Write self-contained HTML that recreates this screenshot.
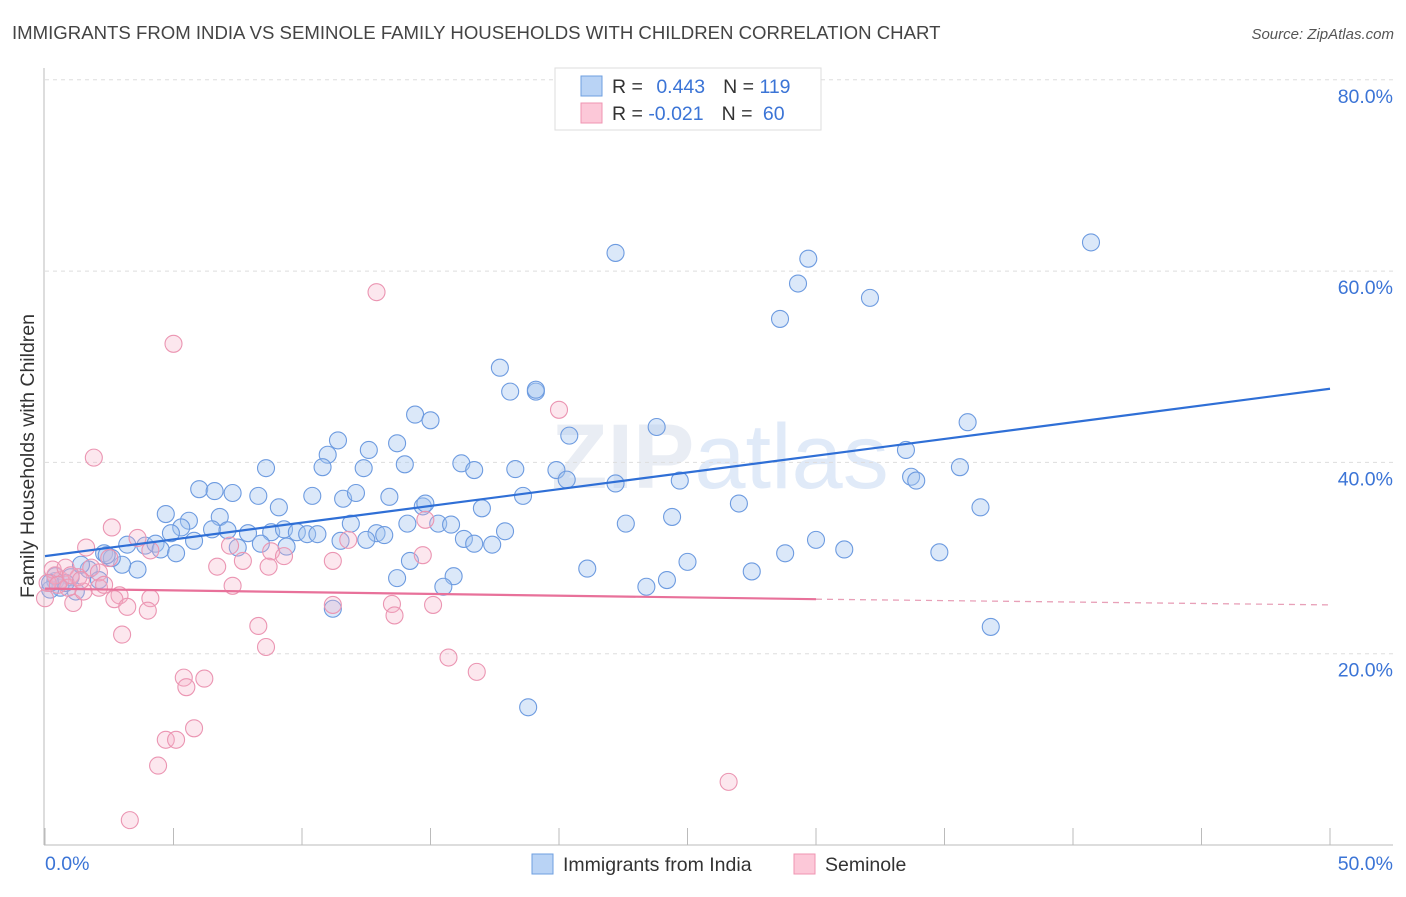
<!DOCTYPE html>
<html><head><meta charset="utf-8"><style>
body{margin:0;background:#fff;font-family:"Liberation Sans",sans-serif;}
svg text{font-family:"Liberation Sans",sans-serif;}
</style></head><body>
<svg id="c" width="1406" height="892" xmlns="http://www.w3.org/2000/svg">
<text x="12" y="39" font-size="18.6" fill="#444">IMMIGRANTS FROM INDIA VS SEMINOLE FAMILY HOUSEHOLDS WITH CHILDREN CORRELATION CHART</text>
<text x="1394" y="39" font-size="15" fill="#555" text-anchor="end" font-style="italic">Source: ZipAtlas.com</text>
<text x="720" y="488" font-size="92" fill="#e9edf4" text-anchor="middle" font-weight="bold" font-family="Liberation Serif">ZIP<tspan fill="#e0eaf8" font-weight="normal" font-family="Liberation Sans">atlas</tspan></text>
<g id="grid"></g>
<g id="pts"></g>
<g id="lines"></g>
<text transform="translate(34,456) rotate(-90)" font-size="19.5" fill="#333" text-anchor="middle">Family Households with Children</text>
<g>
<rect x="555" y="68" width="266" height="62" fill="#fff" stroke="#ddd"/>
<rect x="581" y="76" width="21" height="20" fill="#b9d3f5" stroke="#6e9fe0"/>
<rect x="581" y="103" width="21" height="20" fill="#fcc8d8" stroke="#ef94b2"/>
<text x="612" y="93" font-size="19.5" fill="#333">R = <tspan fill="#3b74d6" dx="8">0.443</tspan><tspan dx="18" fill="#333">N = </tspan><tspan fill="#3b74d6">119</tspan></text>
<text x="612" y="120" font-size="19.5" fill="#333">R = <tspan fill="#3b74d6">-0.021</tspan><tspan dx="18" fill="#333">N = </tspan><tspan fill="#3b74d6" dx="5">60</tspan></text>
</g>
<g>
<rect x="532" y="854" width="21" height="20" fill="#b9d3f5" stroke="#6e9fe0"/>
<text x="563" y="871" font-size="19.5" fill="#333">Immigrants from India</text>
<rect x="794" y="854" width="21" height="20" fill="#fcc8d8" stroke="#ef94b2"/>
<text x="825" y="871" font-size="19.5" fill="#333">Seminole</text>
</g>
</svg>
<script>
const blueX=[22.2,40.7,29.7,29.3,32.1,28.6,17.7,18.1,19.1,19.1,14.4,15.0,20.4,23.8,35.9,33.5,11.4,13.7,12.6,11.0,8.6,10.8,12.4,14.0,16.2,16.7,18.3,19.9,20.3,22.2,24.7,33.7,33.9,35.6,6.0,6.6,7.3,8.3,10.4,11.6,12.1,13.4,18.6,9.1,14.7,14.8,17.0,27.0,36.4,4.7,5.6,6.8,5.3,4.9,6.5,7.1,7.9,8.8,9.3,9.8,10.2,10.6,11.9,12.9,13.2,14.1,15.3,15.8,17.9,22.6,24.4,30.0,31.1,34.8,28.8,25.0,16.3,16.7,17.4,11.5,12.5,8.4,7.5,9.4,2.3,3.2,3.9,4.3,4.5,5.1,5.8,14.2,13.7,15.9,15.5,21.1,24.2,23.4,27.5,36.8,18.8,11.2,3.6,3.0,2.6,2.4,1.7,1.0,0.4,0.6,1.2,0.2,0.8,2.1,1.4,0.4,0.2];
const blueY=[61.9,63.0,61.3,58.7,57.2,55.0,49.9,47.4,47.4,47.6,45.0,44.4,42.8,43.7,44.2,41.3,42.3,42.0,41.3,40.8,39.4,39.5,39.4,39.8,39.9,39.2,39.3,39.2,38.2,37.8,38.1,38.5,38.1,39.5,37.2,37.0,36.8,36.5,36.5,36.2,36.8,36.4,36.5,35.3,35.4,35.7,35.2,35.7,35.3,34.6,33.9,34.3,33.2,32.6,33.0,32.9,32.6,32.7,33.0,32.7,32.5,32.5,33.6,32.6,32.4,33.6,33.6,33.5,32.8,33.6,34.3,31.9,30.9,30.6,30.5,29.6,32.0,31.5,31.4,31.8,31.9,31.5,31.1,31.2,30.5,31.4,31.3,31.5,30.9,30.5,31.8,29.7,27.9,28.1,27.0,28.9,27.7,27.0,28.6,22.8,14.4,24.7,28.8,29.3,30.0,30.3,28.8,28.0,27.6,26.9,26.5,26.7,27.4,27.7,29.3,28.1,27.4];
const pinkX=[12.9,5.0,1.9,20.0,14.8,2.6,3.6,7.2,1.6,2.5,4.1,8.8,9.3,11.2,14.7,11.8,6.7,7.7,8.7,7.3,2.1,2.9,4.1,2.7,3.2,1.1,1.5,0.6,0.4,0.0,11.2,13.5,13.6,15.1,4.0,8.3,8.6,3.0,5.4,6.2,5.5,15.7,16.8,5.8,4.7,5.1,4.4,3.3,26.6,0.3,0.8,1.3,1.8,2.1,0.9,2.3,0.1,0.5,1.0,1.4];
const pinkY=[57.8,52.4,40.5,45.5,34.0,33.2,32.1,31.3,31.1,30.0,30.8,30.7,30.2,29.7,30.3,31.9,29.1,29.7,29.1,27.1,26.9,26.1,25.8,25.7,24.9,25.3,26.5,27.7,28.2,25.8,25.1,25.2,24.0,25.1,24.5,22.9,20.7,22.0,17.5,17.4,16.5,19.6,18.1,12.2,11.0,11.0,8.3,2.6,6.6,28.8,29.0,28.0,29.0,28.5,26.9,27.2,27.4,27.2,28.2,27.7];
const blueTrend=[30.2,47.7];
const pinkTrend=[26.8,25.7,25.1];
const yTicks=[20,40,60,80];
const yTickLabels=["20.0%","40.0%","60.0%","80.0%"];
const xTicks=[0,5,10,15,20,25,30,35,40,45,50];
const NS="http://www.w3.org/2000/svg";
const sx=v=>45+v*25.7, sy=v=>845-v*9.565;
function mk(t,a,p){const e=document.createElementNS(NS,t);for(const k in a)e.setAttribute(k,a[k]);p.appendChild(e);return e;}
const grid=document.getElementById('grid'),pts=document.getElementById('pts'),lines=document.getElementById('lines');
yTicks.forEach((v,i)=>{
 const l=mk('line',{x1:45,x2:1393,y1:sy(v),y2:sy(v),stroke:'#ddd','stroke-dasharray':'4,4'},grid);
 
 
 const t=mk('text',{x:1393,y:sy(v)+23,'font-size':19.5,fill:'#3b74d6','text-anchor':'end'},grid);
 t.textContent=yTickLabels[i];
 
 
});
const ax=mk('line',{x1:44,x2:44,y1:68,y2:845,stroke:'#bbb'},grid);


const bx=mk('line',{x1:44,x2:1393,y1:845,y2:845,stroke:'#bbb'},grid);


xTicks.forEach(v=>{
 const l=mk('line',{x1:sx(v),x2:sx(v),y1:828,y2:845,stroke:'#bbb'},grid);
 
 
});
const xl0=mk('text',{x:45,y:870,'font-size':19.5,fill:'#3b74d6'},grid);xl0.textContent=xTicks[0].toFixed(1)+'%';


const xl1=mk('text',{x:1393,y:870,'font-size':19.5,fill:'#3b74d6','text-anchor':'end'},grid);xl1.textContent=xTicks[xTicks.length-1].toFixed(1)+'%';


blueX.forEach((x,i)=>{
 const c=mk('circle',{cx:sx(x),cy:sy(blueY[i]),r:8.5,fill:'rgba(165,198,240,0.4)',stroke:'#6d9be0','stroke-width':1.1},pts);
 
 
});
pinkX.forEach((x,i)=>{
 const c=mk('circle',{cx:sx(x),cy:sy(pinkY[i]),r:8.5,fill:'rgba(245,175,198,0.3)',stroke:'#eb95b2','stroke-width':1.1},pts);
 
 
});
const bl=mk('line',{x1:sx(0),y1:sy(blueTrend[0]),x2:sx(50),y2:sy(blueTrend[1]),stroke:'#2f6fd6','stroke-width':2.2},lines);


const pl=mk('line',{x1:sx(0),y1:sy(pinkTrend[0]),x2:sx(30),y2:sy(pinkTrend[1]),stroke:'#e8719a','stroke-width':2.2},lines);


const pd=mk('line',{x1:sx(30),y1:sy(pinkTrend[1]),x2:sx(50),y2:sy(pinkTrend[2]),stroke:'#e8a0b8','stroke-width':1.3,'stroke-dasharray':'6,5'},lines);


</script>
</body></html>
